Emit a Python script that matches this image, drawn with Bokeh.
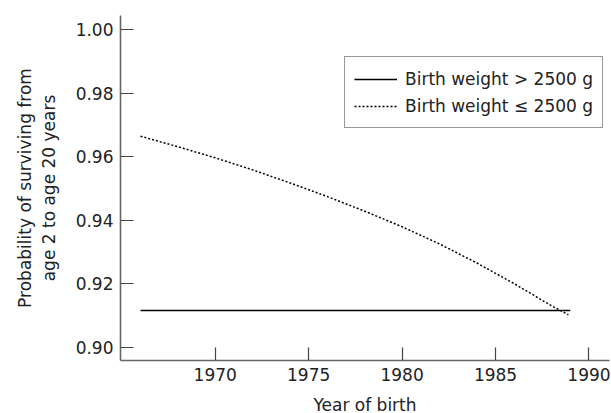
from bokeh.plotting import figure
from bokeh.models import Range1d, Legend, LegendItem, FixedTicker
from bokeh.embed import file_html
from bokeh.resources import INLINE

# data
years_normal = [1966, 1989]
surv_normal = [0.9115, 0.9115]

years_low = [1966, 1968, 1970, 1972, 1974, 1976, 1978, 1980, 1982, 1984, 1986, 1988, 1988.9]
surv_low = [0.9664, 0.9631, 0.9596, 0.9558, 0.9517, 0.9474, 0.9428, 0.9379, 0.9325, 0.9265, 0.9200, 0.9130, 0.9102]

x_ticks = [1970, 1975, 1980, 1985, 1990]
y_ticks = [0.90, 0.92, 0.94, 0.96, 0.98, 1.00]

FONT = "DejaVu Sans"
FS = "17px"

p = figure(width=611, height=413, output_backend="svg", toolbar_location=None,
           x_range=Range1d(1964.93, 1991.1), y_range=Range1d(0.8958, 1.0044),
           min_border_left=120, min_border_right=2, min_border_top=15, min_border_bottom=53,
           frame_width=489, frame_height=345)
p.outline_line_color = None
p.grid.grid_line_color = None

r1 = p.line(years_normal, surv_normal, line_color="black", line_width=1.5)
r2 = p.line(years_low, surv_low, line_color="black", line_width=1.5, line_dash="2 2")

for ax in (p.xaxis[0], p.yaxis[0]):
    ax.axis_line_color = "#666666"
    ax.axis_line_width = 1.6
    ax.major_tick_line_color = "#444444"
    ax.major_tick_line_width = 1.2
    ax.major_tick_in = 13
    ax.major_tick_out = 0
    ax.minor_tick_line_color = None
    ax.major_label_text_font = FONT
    ax.major_label_text_font_size = FS
    ax.major_label_text_color = "#222222"
    ax.axis_label_text_font = FONT
    ax.axis_label_text_font_size = FS
    ax.axis_label_text_font_style = "normal"
    ax.axis_label_text_color = "#222222"

p.xaxis.ticker = FixedTicker(ticks=x_ticks)
p.yaxis.ticker = FixedTicker(ticks=y_ticks)
p.yaxis.major_label_overrides = {t: f"{t:.2f}" for t in y_ticks}
p.xaxis.major_label_standoff = 7
p.yaxis.major_label_standoff = 7
p.xaxis.axis_label = "Year of birth"
p.yaxis.axis_label = "Probability of surviving from\nage 2 to age 20 years"
p.yaxis.axis_label_standoff = 14
p.xaxis.axis_label_standoff = 11

legend = Legend(items=[LegendItem(label="Birth weight > 2500 g", renderers=[r1]),
                       LegendItem(label="Birth weight \u2264 2500 g", renderers=[r2])],
                location=(224, 232))
legend.border_line_color = "#333333"
legend.border_line_width = 1.2
legend.label_text_font = FONT
legend.label_text_font_size = FS
legend.label_text_color = "#222222"
legend.glyph_width = 43
legend.label_height = 25
legend.label_standoff = 8
legend.padding = 9
legend.spacing = 2
legend.margin = 0
legend.background_fill_alpha = 1
p.add_layout(legend, "center")

open("out.html", "w").write(file_html(p, INLINE))
